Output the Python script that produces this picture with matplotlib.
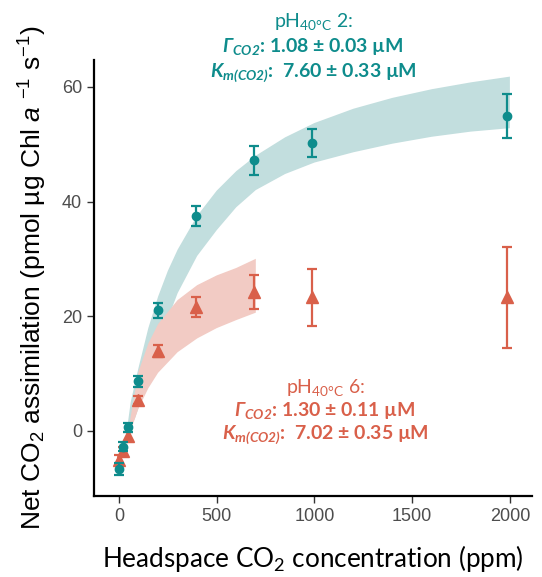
import matplotlib
matplotlib.use("Agg")
import matplotlib.pyplot as plt

plt.rcParams['mathtext.fontset'] = 'custom'
plt.rcParams['mathtext.rm'] = 'Lato'
plt.rcParams['mathtext.it'] = 'Liberation Sans:italic'
plt.rcParams['mathtext.bf'] = 'Lato:bold'
plt.rcParams['mathtext.bfit'] = 'Lato:italic:bold'

# measured points (ppm, pmol ug-1 Chl a s-1)
co2 = [0, 22, 48, 98, 198, 393, 690, 990, 1985]
ph2_mean = [-6.7, -2.8, 0.6, 8.6, 21.0, 37.5, 47.2, 50.2, 54.9]
ph2_err = [1.0, 0.8, 0.8, 0.9, 1.3, 1.8, 2.5, 2.5, 3.8]
ph6_mean = [-5.1, -3.6, -1.0, 5.4, 13.9, 21.6, 24.2, 23.3, 23.3]
ph6_err = [0.8, 0.8, 0.8, 0.7, 1.0, 1.8, 3.0, 5.0, 8.8]

# fit bands, edges
ph2_up_x = [30, 40, 60, 100, 150, 200, 250, 300, 400, 500, 600, 700, 850, 1000, 1200, 1400, 1600, 1800, 2000]
ph2_up_y = [-2, 0, 5, 11.0, 17.9, 23.4, 27.9, 31.6, 37.5, 41.9, 45.3, 48.0, 51.2, 53.7, 56.2, 58.1, 59.6, 60.8, 61.8]
ph2_lo_x = [30, 45, 80, 111, 150, 200, 250, 300, 400, 500, 600, 700, 850, 1000, 1200, 1400, 1600, 1800, 2000]
ph2_lo_y = [-2, 0, 2, 5, 9.5, 14.5, 19.5, 24, 30.5, 35, 39, 42, 44.8, 46.8, 48.6, 50.1, 51.3, 52.2, 52.8]

ph6_up_x = [45, 60, 100, 150, 200, 300, 400, 500, 600, 700]
ph6_up_y = [-1, 2.5, 10.3, 15.2, 18.6, 22.8, 25.4, 27.1, 28.4, 30.0]
ph6_lo_x = [45, 60, 100, 150, 200, 300, 400, 500, 600, 700]
ph6_lo_y = [-1, 0, 3.9, 7.4, 10.1, 13.7, 16.1, 17.9, 19.3, 20.6]

teal = '#0E8C8C'
teal_band = '#C2DEDE'
red = '#D9604A'
red_band = '#F2CBC4'

fig = plt.figure(figsize=(5.42, 5.77), dpi=100)
ax = fig.add_axes([0.1734, 0.1404, 0.8081, 0.7556])

ax.fill(ph2_up_x + ph2_lo_x[::-1], ph2_up_y + ph2_lo_y[::-1], color=teal_band, lw=0, zorder=1)
ax.fill(ph6_up_x + ph6_lo_x[::-1], ph6_up_y + ph6_lo_y[::-1], color=red_band, lw=0, zorder=1)

ax.errorbar(co2, ph6_mean, yerr=ph6_err, fmt='^', color=red, ms=9, elinewidth=1.6,
            capsize=3.6, capthick=1.6, zorder=3)
ax.errorbar(co2, ph2_mean, yerr=ph2_err, fmt='o', color=teal, ms=6, elinewidth=1.6,
            capsize=3.6, capthick=1.6, zorder=4)

ax.set_xlim(-128, 2113)
ax.set_ylim(-11.4, 64.7)
ax.set_xticks([0, 500, 1000, 1500, 2000])
ax.set_yticks([0, 20, 40, 60])
for s in ['top', 'right']:
    ax.spines[s].set_visible(False)
for s in ['left', 'bottom']:
    ax.spines[s].set_linewidth(1.6)
ax.tick_params(direction='out', length=5, width=1, colors='#333333', labelcolor='#4D4D4D',
               labelsize=13)
for lab in ax.get_xticklabels() + ax.get_yticklabels():
    lab.set_family('Liberation Sans')

ax.set_xlabel(r'Headspace CO$_\mathregular{2}$ concentration (ppm)', family='Lato',
              fontsize=18.8, labelpad=13)
ax.set_ylabel(r'Net CO$_\mathregular{2}$ assimilation (pmol µg Chl $a$ $^\mathregular{-1}$ s$^\mathregular{-1}$)',
              family='Liberation Sans', fontsize=19, labelpad=9)

fig.text(0.578, 0.962, r'pH$_\mathregular{40°C}$ 2:', color=teal, family='Lato',
         fontsize=14, ha='center', va='center')
fig.text(0.578, 0.919, r'$\mathbfit{\Gamma_{CO2}}$: 1.08 ± 0.03 µM', color=teal, family='Lato',
         weight='bold', fontsize=14, ha='center', va='center')
fig.text(0.578, 0.873, r'$\mathbfit{K_{m(CO2)}}$:  7.60 ± 0.33 µM', color=teal, family='Lato',
         weight='bold', fontsize=14, ha='center', va='center')

fig.text(0.600, 0.329, r'pH$_\mathregular{40°C}$ 6:', color=red, family='Lato',
         fontsize=14, ha='center', va='center')
fig.text(0.600, 0.289, r'$\mathbfit{\Gamma_{CO2}}$: 1.30 ± 0.11 µM', color=red, family='Lato',
         weight='bold', fontsize=14, ha='center', va='center')
fig.text(0.600, 0.246, r'$\mathbfit{K_{m(CO2)}}$:  7.02 ± 0.35 µM', color=red, family='Lato',
         weight='bold', fontsize=14, ha='center', va='center')

fig.savefig('out.png', dpi=100)
